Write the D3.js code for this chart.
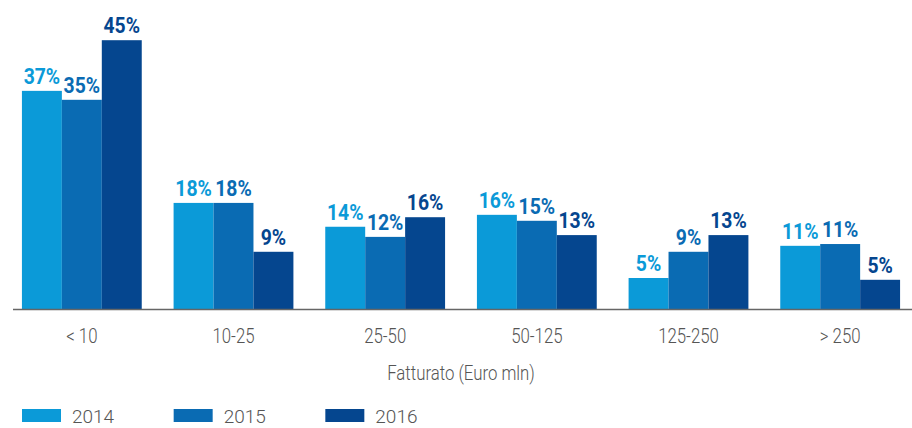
<!DOCTYPE html>
<html><head><meta charset="utf-8">
<script src="https://cdn.jsdelivr.net/npm/d3@7"></script>
<style>body{margin:0;background:#fff}svg{display:block}</style>
</head><body><svg id="c" width="912" height="428"></svg>
<script>
const categories = ["< 10", "10-25", "25-50", "50-125", "125-250", "> 250"];
const years = ["2014", "2015", "2016"];
const values2014 = [36.6, 17.8, 13.8, 15.8, 5.2, 10.6];
const values2015 = [35.1, 17.8, 12.1, 14.8, 9.6, 10.9];
const values2016 = [45.1, 9.6, 15.4, 12.4, 12.4, 4.9];
const labels2014 = [37, 18, 14, 16, 5, 11];
const labels2015 = [35, 18, 12, 15, 9, 11];
const labels2016 = [45, 9, 16, 13, 13, 5];
const axisTitle = "Fatturato (Euro mln)";
const colors = ["#0b9ad8", "#0a6bb3", "#05468f"];

const values = [values2014, values2015, values2016];
const labels = [labels2014, labels2015, labels2016];

const svg = d3.select("#c");
const baseY = 309;
const x0 = d3.scaleBand().domain(categories).range([6, 916]).paddingInner(0.21).paddingOuter(0.105);
const x1 = d3.scaleBand().domain(years).range([0, x0.bandwidth()]);
const y = d3.scaleLinear().domain([0, 50]).range([baseY, baseY - 50 * 5.96]);

const data = [];
categories.forEach((c, i) => years.forEach((yr, j) => data.push({c, yr, j, v: values[j][i], l: labels[j][i]})));

svg.append("g").selectAll("rect").data(data).join("rect")
  .attr("x", d => x0(d.c) + x1(d.yr))
  .attr("y", d => y(d.v))
  .attr("width", x1.bandwidth())
  .attr("height", d => baseY - y(d.v))
  .attr("fill", d => colors[d.j]);

svg.append("g").selectAll("text").data(data).join("text")
  .attr("transform", d => `translate(${x0(d.c) + x1(d.yr) + x1.bandwidth() / 2},${y(d.v) - 7}) scale(0.88,1)`)
  .attr("text-anchor", "middle")
  .attr("font-family", "Roboto, sans-serif")
  .attr("font-weight", 700)
  .attr("font-size", 22)
  .attr("fill", d => colors[d.j])
  .text(d => d.l + "%");

// axis
const axis = svg.append("g").attr("transform", `translate(0,${baseY})`)
  .call(d3.axisBottom(x0).tickSize(0).tickPadding(0));
axis.select(".domain").attr("d", "M13,0.5H912").attr("stroke", "#666").attr("stroke-width", 1.3);
axis.selectAll(".tick text").remove();
axis.selectAll(".tick").append("text")
  .attr("transform", "translate(0,34) scale(0.8,1)")
  .attr("text-anchor", "middle")
  .attr("font-family", "Roboto, sans-serif")
  .attr("font-weight", 300)
  .attr("font-size", 21)
  .attr("fill", "#555")
  .text(d => d);

svg.append("text")
  .attr("transform", "translate(461,380) scale(0.8,1)")
  .attr("text-anchor", "middle")
  .attr("font-family", "Roboto, sans-serif")
  .attr("font-weight", 300)
  .attr("font-size", 21)
  .attr("fill", "#555")
  .text(axisTitle);

// legend
const lx = d3.scaleLinear().domain([0, 1]).range([22, 22 + x0.step()]);
const lg = svg.append("g").selectAll("g").data(years).join("g")
  .attr("transform", (d, i) => `translate(${lx(i)},409)`);
lg.append("rect").attr("width", 39).attr("height", 13).attr("fill", (d, i) => colors[i]);
lg.append("text").attr("x", 50).attr("y", 14)
  .attr("font-family", "Roboto, sans-serif")
  .attr("font-weight", 300)
  .attr("font-size", 19)
  .attr("fill", "#555")
  .text(d => d);
</script></body></html>
